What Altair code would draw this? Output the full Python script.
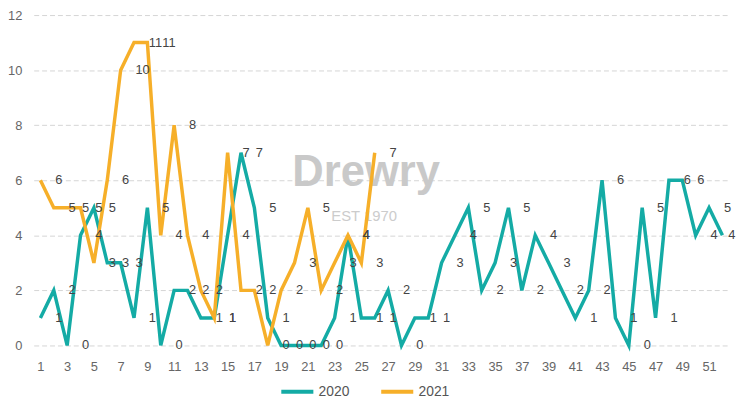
import altair as alt
import pandas as pd

# ---- data ----
weeks = list(range(1, 53))
tick_weeks = list(range(1, 52, 2))
y_ticks = [0, 2, 4, 6, 8, 10, 12]
series_names = ["2020", "2021"]
values_2020 = [1, 2, 0, 4, 5, 3, 3, 1, 5, 0, 2, 2, 1, 1, 4, 7, 5, 1, 0, 0,
               0, 0, 1, 4, 1, 1, 2, 0, 1, 1, 3, 4, 5, 2, 3, 5, 2, 4, 3, 2,
               1, 2, 6, 1, 0, 5, 1, 6, 6, 4, 5, 4]
values_2021 = [6, 5, 5, 5, 3, 6, 10, 11, 11, 4, 8, 4, 2, 1, 7, 2, 2, 0, 2, 3,
               5, 2, 3, 4, 3, 7]
colors = ["#14ABA5", "#F6AF29"]
watermark_text = ["Drewry"]
watermark_sub = ["EST 1970"]

rows = []
for w, v in zip(weeks, values_2020):
    rows.append({"week": w, "value": v, "year": series_names[0]})
for w, v in zip(weeks, values_2021):
    rows.append({"week": w, "value": v, "year": series_names[1]})
df = pd.DataFrame(rows)

FONT = "Liberation Sans"
W, H = 703, 334

x = alt.X(
    "week:O",
    scale=alt.Scale(type="point", padding=0.5),
    axis=alt.Axis(values=tick_weeks, labelAngle=0, title=None, ticks=False,
                  tickSize=0, domain=False, labelPadding=15, labelFontSize=13,
                  labelColor="#666666", grid=False, labelFont=FONT),
)
y = alt.Y(
    "value:Q",
    scale=alt.Scale(domain=[0, 12], nice=False, zero=True),
    axis=alt.Axis(values=y_ticks, title=None, ticks=False, tickSize=0,
                  domain=False, labelPadding=12, labelFontSize=13,
                  labelColor="#666666", grid=True, gridDash=[5, 3],
                  gridColor="#d4d4d4", gridWidth=1, labelFont=FONT),
)

wm = alt.Chart(pd.DataFrame({"t": watermark_text})).mark_text(
    fontSize=44, fontWeight="bold", color="#c9c9c9", font=FONT,
    align="center", baseline="middle",
).encode(x=alt.value(336), y=alt.value(160), text="t:N")

wm2 = alt.Chart(pd.DataFrame({"t": watermark_sub})).mark_text(
    fontSize=15, color="#cccccc", font=FONT, align="center", baseline="middle",
).encode(x=alt.value(334), y=alt.value(203), text="t:N")

lines = alt.Chart(df).mark_line(strokeWidth=3.5).encode(
    x=x, y=y,
    color=alt.Color(
        "year:N",
        scale=alt.Scale(domain=series_names, range=colors),
        legend=alt.Legend(orient="none", legendX=248, legendY=362,
                          direction="horizontal", title=None,
                          symbolType="stroke", symbolStrokeWidth=4,
                          symbolSize=1050, labelFontSize=14,
                          labelColor="#555555", columnPadding=23,
                          labelOffset=3, labelFont=FONT),
    ),
)

labels = alt.Chart(df).transform_filter("datum.week < 52").mark_text(
    align="left", baseline="middle", dx=15, fontSize=13, color="#444444",
    font=FONT,
).encode(x=x, y=y, text="value:Q")

labels_last = alt.Chart(df).transform_filter("datum.week == 52").mark_text(
    align="left", baseline="middle", dx=6, fontSize=13, color="#444444",
    font=FONT,
).encode(x=x, y=y, text="value:Q")

chart = alt.layer(wm, wm2, lines, labels, labels_last).properties(
    width=W, height=H,
    autosize=alt.AutoSizeParams(type="none"),
    padding={"left": 26, "top": 5, "right": 10, "bottom": 52},
).configure_view(stroke=None)

chart.save("out.html", embed_options={"renderer": "svg", "actions": False})
